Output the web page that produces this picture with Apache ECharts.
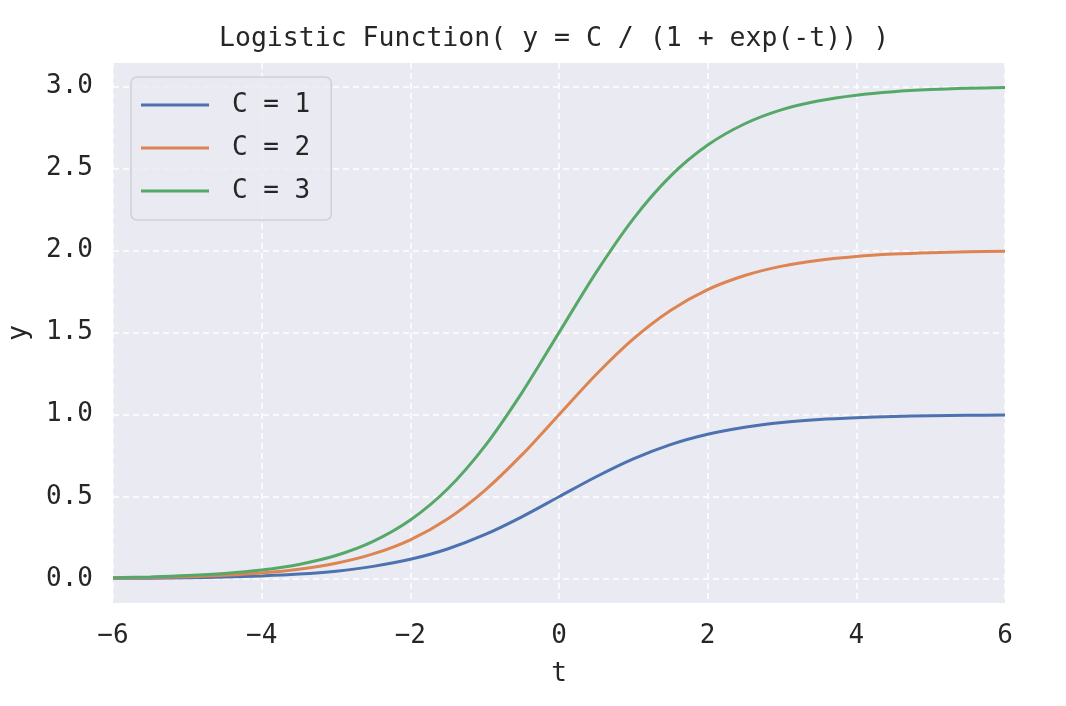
<!DOCTYPE html>
<html>
<head>
<meta charset="utf-8">
<script src="https://cdn.jsdelivr.net/npm/echarts@6/dist/echarts.min.js"></script>
<style>html,body{margin:0;padding:0;background:#fff;}#c{width:1066px;height:706px;}</style>
</head>
<body>
<div id="c"></div>
<script>
// t sample positions
const tValues = [-6,-5.5,-5,-4.5,-4,-3.5,-3,-2.5,-2,-1.5,-1,-0.5,0,0.5,1,1.5,2,2.5,3,3.5,4,4.5,5,5.5,6];
// values
const seriesC1 = [0.003,0.004,0.007,0.011,0.018,0.029,0.047,0.076,0.119,0.182,0.269,0.378,0.5,0.622,0.731,0.818,0.881,0.924,0.953,0.971,0.982,0.989,0.993,0.996,0.998];
const seriesC2 = [0.005,0.008,0.013,0.022,0.036,0.059,0.095,0.152,0.238,0.365,0.538,0.755,1.0,1.245,1.462,1.635,1.762,1.848,1.905,1.941,1.964,1.978,1.987,1.992,1.995];
const seriesC3 = [0.007,0.012,0.020,0.033,0.054,0.088,0.142,0.228,0.358,0.547,0.807,1.133,1.5,1.867,2.193,2.453,2.642,2.772,2.858,2.912,2.946,2.967,2.980,2.988,2.993];
const seriesNames = ['C = 1','C = 2','C = 3'];
const seriesColors = ['#4C72B0','#DD8452','#55A868'];
const yTicks = [0, 0.5, 1.0, 1.5, 2.0, 2.5, 3.0];
const xTicks = [-6,-4,-2,0,2,4,6];

const FONT = 'DejaVu Sans Mono';
const TXT = '#262626';
const allData = [seriesC1, seriesC2, seriesC3];

const chart = echarts.init(document.getElementById('c'), null, {renderer:'canvas'});
chart.setOption({
  animation: false,
  backgroundColor: '#ffffff',
  title: {
    text: 'Logistic Function( y = C / (1 + exp(-t)) )',
    left: 214, top: 21,
    textStyle: {fontFamily: FONT, fontSize: 26.5, fontWeight: 'normal', color: TXT}
  },
  grid: {left: 113, right: 61, top: 63, bottom: 103, show: true, backgroundColor: '#EAEAF2', borderWidth: 0,
    containLabel: false, outerBoundsMode: 'none'},
  legend: {
    orient: 'vertical', left: 131, top: 77,
    padding: [14, 21, 15, 10],
    icon: 'rect',
    itemWidth: 68, itemHeight: 3, itemGap: 15,
    backgroundColor: 'rgba(234,234,242,0.8)',
    borderColor: '#CFCFD4', borderWidth: 1.5, borderRadius: 6,
    textStyle: {fontFamily: FONT, fontSize: 26, color: TXT, padding: [0,0,0,18], lineHeight: 28},
    data: seriesNames
  },
  xAxis: {
    type: 'value', min: -6, max: 6, interval: 2,
    name: 't', nameLocation: 'middle', nameGap: 58,
    nameTextStyle: {fontFamily: FONT, fontSize: 26, color: TXT},
    axisLine: {show: false}, axisTick: {show: false},
    axisLabel: {fontFamily: FONT, fontSize: 26, color: TXT, margin: 20,
      formatter: v => String(v).replace('-', '\u2212')},
    splitLine: {show: true, lineStyle: {color: '#ffffff', width: 1.5, type: [6,4]}}
  },
  yAxis: {
    type: 'value', min: -0.147, max: 3.142,
    name: 'y', nameLocation: 'middle', nameGap: 81, nameRotate: 90,
    nameTextStyle: {fontFamily: FONT, fontSize: 26, color: TXT},
    axisLine: {show: false},
    axisTick: {show: false, customValues: yTicks},
    axisLabel: {fontFamily: FONT, fontSize: 26, color: TXT, margin: 20, customValues: yTicks,
      formatter: v => Number(v).toFixed(1)},
    splitLine: {show: true, lineStyle: {color: '#ffffff', width: 1.5, type: [6,4]}}
  },
  series: seriesNames.map((n, i) => ({
    name: n, type: 'line', symbol: 'none', showSymbol: false, smooth: 0.3,
    lineStyle: {color: seriesColors[i], width: 3},
    itemStyle: {color: seriesColors[i]},
    data: tValues.map((t, j) => [t, allData[i][j]])
  }))
});
</script>
</body>
</html>
